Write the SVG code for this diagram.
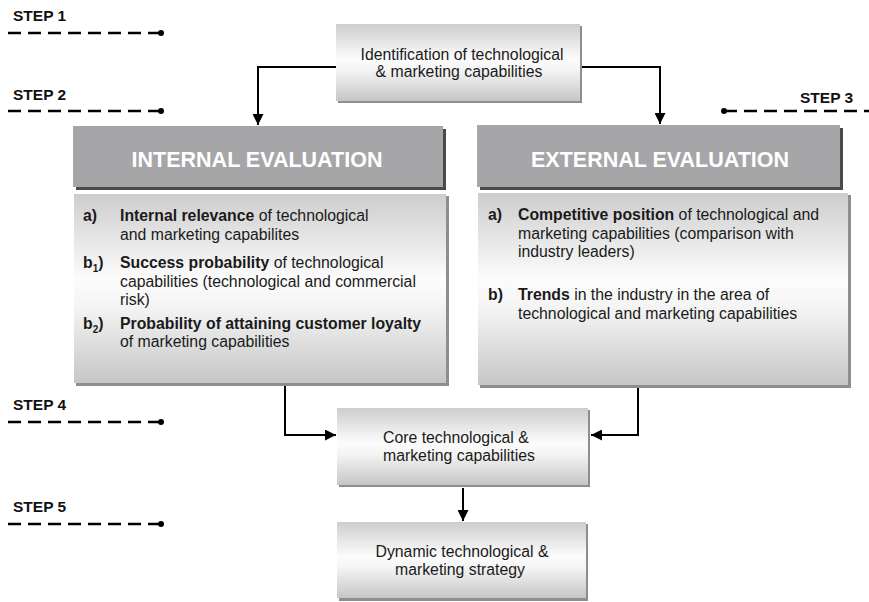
<svg xmlns="http://www.w3.org/2000/svg" width="869" height="602" viewBox="0 0 869 602">
<defs>
<linearGradient id="lg" x1="0" y1="0" x2="0" y2="1">
<stop offset="0" stop-color="#cdcdcd"/>
<stop offset="0.45" stop-color="#fcfcfc"/>
<stop offset="0.6" stop-color="#f4f4f4"/>
<stop offset="1" stop-color="#c6c6c6"/>
</linearGradient>
<marker id="ah" viewBox="0 0 10 10" refX="10" refY="5" markerWidth="11" markerHeight="11" markerUnits="userSpaceOnUse" orient="auto">
<path d="M0,0 L10,5 L0,10 Z" fill="#000"/>
</marker>
<style>
.t{font-family:"Liberation Sans",Arial,sans-serif;font-size:15.8px;fill:#1a1a1a}
.b{font-weight:bold}
.step{font-family:"Liberation Sans",Arial,sans-serif;font-size:15.5px;font-weight:bold;fill:#111}
.hd{font-family:"Liberation Sans",Arial,sans-serif;font-size:21.5px;font-weight:bold;fill:#fff}
.dash{stroke:#000;stroke-width:2.5;stroke-dasharray:13 7;fill:none}
.dot{fill:#000}
.box{fill:url(#lg)}
.sh{fill:#8e8e8e}
.hsh{fill:#4a4a4a}
.hbox{fill:#a6a6a8}
.con{stroke:#000;stroke-width:2;fill:none;marker-end:url(#ah)}
.sub{font-size:10px}
</style>
</defs>
<rect width="869" height="602" fill="#fff"/>

<g id="steps">
<text class="step" x="13" y="21">STEP 1</text>
<line class="dash" x1="8" y1="33" x2="161" y2="33"/>
<circle class="dot" cx="161" cy="33" r="3"/>
<text class="step" x="13" y="100">STEP 2</text>
<line class="dash" x1="8" y1="111" x2="161" y2="111"/>
<circle class="dot" cx="161" cy="111" r="3"/>
<text class="step" x="800" y="103">STEP 3</text>
<line class="dash" x1="724" y1="111" x2="872" y2="111"/>
<circle class="dot" cx="724" cy="111" r="3"/>
<text class="step" x="13" y="410">STEP 4</text>
<line class="dash" x1="8" y1="422" x2="161" y2="422"/>
<circle class="dot" cx="161" cy="422" r="3"/>
<text class="step" x="13" y="512">STEP 5</text>
<line class="dash" x1="8" y1="524" x2="161" y2="524"/>
<circle class="dot" cx="161" cy="524" r="3"/>
</g>

<g id="connectors">
<polyline class="con" points="336,67 258,67 258,125"/>
<polyline class="con" points="580,67 660,67 660,124"/>
<polyline class="con" points="285,385 285,435 336,435"/>
<polyline class="con" points="638,387 638,435 591,435"/>
<polyline class="con" points="463,488 463,521"/>
</g>

<g id="identification">
<rect class="sh" x="338" y="26" width="244" height="77"/>
<rect class="box" x="336" y="24" width="244" height="77"/>
<text class="t" x="462" y="60" text-anchor="middle">Identification of technological</text>
<text class="t" x="459" y="77" text-anchor="middle">&amp; marketing capabilities</text>
</g>

<g id="internal-header">
<rect class="hsh" x="76" y="129" width="370" height="61"/>
<rect class="hbox" x="73" y="126" width="370" height="61"/>
<text class="hd" x="257" y="167" text-anchor="middle">INTERNAL EVALUATION</text>
</g>

<g id="internal-body">
<rect class="sh" x="76" y="196" width="373" height="190"/>
<rect class="box" x="74" y="194" width="372" height="189"/>
<text class="t b" x="83" y="221">a)</text>
<text class="t" x="120" y="221"><tspan class="b">Internal relevance</tspan> of technological</text>
<text class="t" x="120" y="240">and marketing capabilites</text>
<text class="t b" x="83" y="268">b<tspan class="sub" dy="4">1</tspan><tspan dy="-4">)</tspan></text>
<text class="t" x="120" y="268"><tspan class="b">Success probability</tspan> of technological</text>
<text class="t" x="120" y="287">capabilities (technological and commercial</text>
<text class="t" x="120" y="305">risk)</text>
<text class="t b" x="83" y="329">b<tspan class="sub" dy="4">2</tspan><tspan dy="-4">)</tspan></text>
<text class="t b" x="120" y="329">Probability of attaining customer loyalty</text>
<text class="t" x="120" y="347">of marketing capabilities</text>
</g>

<g id="external-header">
<rect class="hsh" x="480" y="128" width="363" height="62"/>
<rect class="hbox" x="477" y="125" width="363" height="62"/>
<text class="hd" x="660" y="167" text-anchor="middle">EXTERNAL EVALUATION</text>
</g>

<g id="external-body">
<rect class="sh" x="480" y="195" width="371" height="193"/>
<rect class="box" x="478" y="193" width="370" height="192"/>
<text class="t b" x="488" y="220">a)</text>
<text class="t" x="518" y="220"><tspan class="b">Competitive position</tspan> of technological and</text>
<text class="t" x="518" y="239">marketing capabilities (comparison with</text>
<text class="t" x="518" y="257">industry leaders)</text>
<text class="t b" x="488" y="300">b)</text>
<text class="t" x="518" y="300"><tspan class="b">Trends</tspan> in the industry in the area of</text>
<text class="t" x="518" y="319">technological and marketing capabilities</text>
</g>

<g id="core">
<rect class="sh" x="339" y="410" width="251" height="77"/>
<rect class="box" x="337" y="408" width="251" height="77"/>
<text class="t" x="383" y="443">Core technological &amp;</text>
<text class="t" x="383" y="461">marketing capabilities</text>
</g>

<g id="dynamic">
<rect class="sh" x="339" y="524" width="249" height="77"/>
<rect class="box" x="337" y="522" width="249" height="76"/>
<text class="t" x="462" y="557" text-anchor="middle">Dynamic technological &amp;</text>
<text class="t" x="460" y="575" text-anchor="middle">marketing strategy</text>
</g>
</svg>
